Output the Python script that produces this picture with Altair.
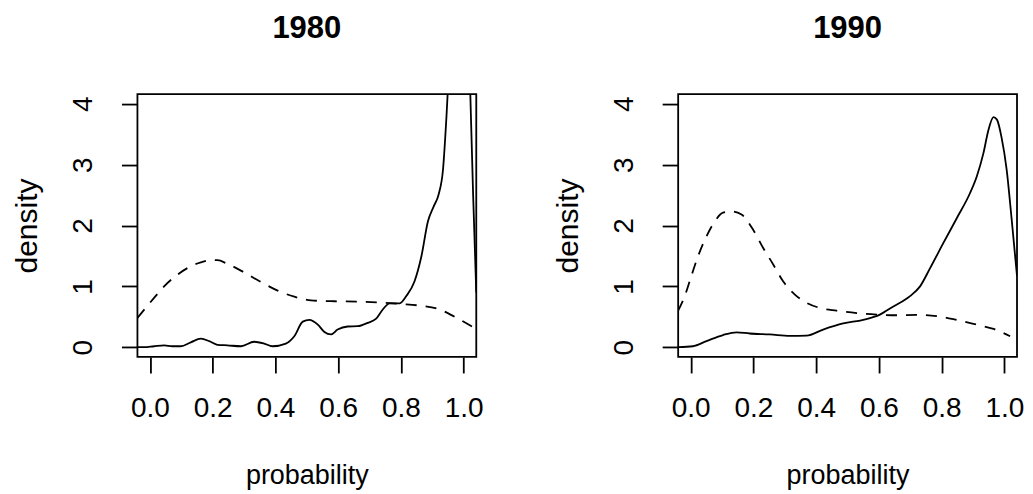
import altair as alt
import pandas as pd

FONT = "Liberation Sans"

years = ["1980", "1990"]
x_ticks = [0.0, 0.2, 0.4, 0.6, 0.8, 1.0]
y_ticks = [0, 1, 2, 3, 4]

x_1980_solid = [-0.04, -0.019, 0.013, 0.045, 0.071, 0.098, 0.13, 0.162, 0.189, 0.215,
                0.247, 0.29, 0.332, 0.364, 0.39, 0.433, 0.46, 0.487, 0.508, 0.535,
                0.556, 0.577, 0.598, 0.63, 0.662, 0.694, 0.72, 0.742, 0.764, 0.796,
                0.817, 0.843, 0.865, 0.886, 0.904, 0.92, 0.934, 0.945, 0.96, 0.975,
                0.99, 1.005, 1.021, 1.03, 1.04]
y_1980_solid = [0.0, 0.0, 0.016, 0.03, 0.016, 0.016, 0.08, 0.14, 0.10, 0.04,
                0.03, 0.016, 0.09, 0.06, 0.016, 0.06, 0.18, 0.42, 0.45, 0.37,
                0.25, 0.21, 0.29, 0.34, 0.345, 0.40, 0.465, 0.62, 0.72, 0.72,
                0.84, 1.08, 1.49, 2.07, 2.31, 2.51, 2.92, 3.79, 5.3, 6.8,
                7.5, 6.6, 4.16, 2.5, 0.9]

x_1980_dashed = [-0.04, 0.013, 0.045, 0.087, 0.13, 0.162, 0.194, 0.215, 0.247, 0.30,
                 0.354, 0.407, 0.46, 0.513, 0.588, 0.662, 0.737, 0.80, 0.865, 0.918,
                 0.971, 1.04]
y_1980_dashed = [0.48, 0.81, 1.00, 1.19, 1.33, 1.395, 1.43, 1.43, 1.37, 1.23,
                 1.07, 0.93, 0.83, 0.77, 0.755, 0.75, 0.733, 0.71, 0.68, 0.63,
                 0.50, 0.30]

x_1990_solid = [-0.04, 0.007, 0.05, 0.103, 0.146, 0.188, 0.252, 0.316, 0.369, 0.422,
                0.486, 0.55, 0.603, 0.646, 0.699, 0.731, 0.763, 0.805, 0.848, 0.89,
                0.912, 0.933, 0.949, 0.965, 0.976, 0.991, 1.007, 1.023, 1.04]
y_1990_solid = [0.0, 0.016, 0.10, 0.20, 0.245, 0.225, 0.21, 0.186, 0.19, 0.29,
                0.39, 0.45, 0.536, 0.67, 0.84, 1.0, 1.30, 1.71, 2.12, 2.53,
                2.81, 3.19, 3.57, 3.78, 3.74, 3.44, 2.92, 2.10, 1.17]

x_1990_dashed = [-0.04, -0.019, 0.002, 0.023, 0.05, 0.077, 0.103, 0.13, 0.162, 0.199,
                 0.231, 0.263, 0.295, 0.332, 0.369, 0.412, 0.465, 0.529, 0.593, 0.656,
                 0.72, 0.784, 0.848, 0.912, 0.965, 1.018]
y_1990_dashed = [0.60, 0.84, 1.17, 1.49, 1.82, 2.07, 2.21, 2.23, 2.18, 1.93,
                 1.63, 1.36, 1.08, 0.865, 0.73, 0.645, 0.60, 0.56, 0.536, 0.525,
                 0.53, 0.51, 0.45, 0.37, 0.30, 0.18]

series = {
    "1980": ((x_1980_solid, y_1980_solid), (x_1980_dashed, y_1980_dashed)),
    "1990": ((x_1990_solid, y_1990_solid), (x_1990_dashed, y_1990_dashed)),
}

W, H = 339, 263

x_axis = alt.Axis(values=x_ticks, format=".1f", title="probability",
                  labelFontSize=28, titleFontSize=27,
                  labelBaseline="alphabetic", labelPadding=44,
                  titleBaseline="alphabetic", titleY=127, titleAlign="center")
y_axis = alt.Axis(values=y_ticks, format="d", title="density",
                  labelFontSize=28, titleFontSize=30,
                  labelAngle=270, labelAlign="center", labelBaseline="alphabetic",
                  labelPadding=30, titleAngle=270, titleAlign="center",
                  titleBaseline="alphabetic", titleX=-100.5, titleY=H / 2)

x_scale = alt.Scale(domain=[-0.04, 1.04], nice=False, zero=False)
y_scale = alt.Scale(domain=[-0.16, 4.16], nice=False, zero=False)


def panel(year):
    (xs, ys), (xd, yd) = series[year]
    df_s = pd.DataFrame({"x": xs, "y": ys})
    df_d = pd.DataFrame({"x": xd, "y": yd})
    enc = dict(
        x=alt.X("x:Q", scale=x_scale, axis=x_axis),
        y=alt.Y("y:Q", scale=y_scale, axis=y_axis),
    )
    solid = alt.Chart(df_s).mark_line(color="black", strokeWidth=1.8, clip=True,
                                      interpolate="monotone").encode(**enc)
    dashed = alt.Chart(df_d).mark_line(color="black", strokeWidth=1.8, clip=True,
                                       strokeDash=[11, 9],
                                       interpolate="monotone").encode(**enc)
    title = alt.Chart(pd.DataFrame({"t": [year]})).mark_text(
        font=FONT, fontSize=31, fontWeight="bold", color="black",
        align="center", baseline="alphabetic"
    ).encode(x=alt.value(W / 2), y=alt.value(-56), text="t:N")
    return alt.layer(solid, dashed, title).properties(width=W, height=H)


chart = alt.hconcat(panel("1980"), panel("1990"), spacing=202, bounds="flush").properties(
    padding={"left": 3.5, "top": 4, "right": 0, "bottom": 0}
).configure_view(
    stroke="black", strokeWidth=1.8
).configure_axis(
    labelFont=FONT, titleFont=FONT,
    labelColor="black", titleColor="black", titleFontWeight="normal",
    tickColor="black", tickWidth=1.8, tickSize=16, domain=False, grid=False,
    labelOverlap=False, labelFlush=False
)

chart.save("out.html", embed_options={"renderer": "svg", "actions": False})
